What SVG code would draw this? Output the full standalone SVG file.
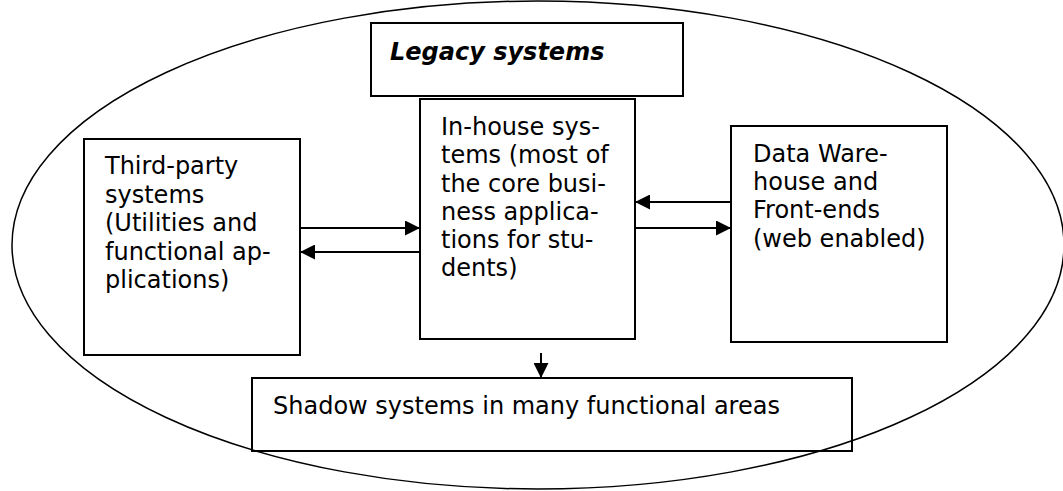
<svg xmlns="http://www.w3.org/2000/svg" width="1063" height="491" viewBox="0 0 1063 491">
<style>
.box{fill:none;stroke:#000;stroke-width:2}
.t{font-family:"DejaVu Sans",Verdana,sans-serif;font-size:24px;fill:#000}
.title{font-family:"DejaVu Sans",Verdana,sans-serif;font-size:24px;font-weight:bold;font-style:italic;fill:#000}
.conn{stroke:#000;stroke-width:2;fill:none;marker-end:url(#ah)}
</style>
<defs>
<marker id="ah" markerUnits="userSpaceOnUse" markerWidth="15" markerHeight="15" refX="15" refY="7.5" orient="auto">
<path d="M0,0 L15,7.5 L0,15 Z" fill="#000"/>
</marker>
</defs>
<rect width="1063" height="491" fill="#fff"/>
<g id="legacy-ellipse">
<ellipse cx="538" cy="245" rx="526" ry="244" fill="none" stroke="#000" stroke-width="1.5"/>
</g>
<g id="legacy-title">
<rect class="box" x="371" y="23" width="312" height="73"/>
<text class="title" x="390" y="60">Legacy systems</text>
</g>
<g id="third-party">
<rect class="box" x="84" y="139" width="216" height="216"/>
<text class="t"><tspan x="105" y="174">Third-party</tspan><tspan x="105" y="203">systems</tspan><tspan x="105" y="231">(Utilities and</tspan><tspan x="105" y="260">functional ap-</tspan><tspan x="105" y="288">plications)</tspan></text>
</g>
<g id="in-house">
<rect class="box" x="420" y="99" width="215" height="240"/>
<text class="t"><tspan x="441" y="135">In-house sys-</tspan><tspan x="441" y="163">tems (most of</tspan><tspan x="441" y="192">the core busi-</tspan><tspan x="441" y="220">ness applica-</tspan><tspan x="441" y="248">tions for stu-</tspan><tspan x="441" y="276">dents)</tspan></text>
</g>
<g id="data-warehouse">
<rect class="box" x="731" y="126" width="216" height="216"/>
<text class="t"><tspan x="753" y="162">Data Ware-</tspan><tspan x="753" y="190">house and</tspan><tspan x="753" y="218">Front-ends</tspan><tspan x="753" y="247">(web enabled)</tspan></text>
</g>
<g id="shadow">
<rect class="box" x="252" y="378" width="600" height="73"/>
<text class="t" x="273" y="414">Shadow systems in many functional areas</text>
</g>
<g id="connectors">
<line class="conn" x1="300" y1="228" x2="420" y2="228"/>
<line class="conn" x1="420" y1="252" x2="300" y2="252"/>
<line class="conn" x1="731" y1="202" x2="635" y2="202"/>
<line class="conn" x1="635" y1="228" x2="731" y2="228"/>
<line class="conn" x1="541" y1="353" x2="541" y2="378"/>
</g>
</svg>
